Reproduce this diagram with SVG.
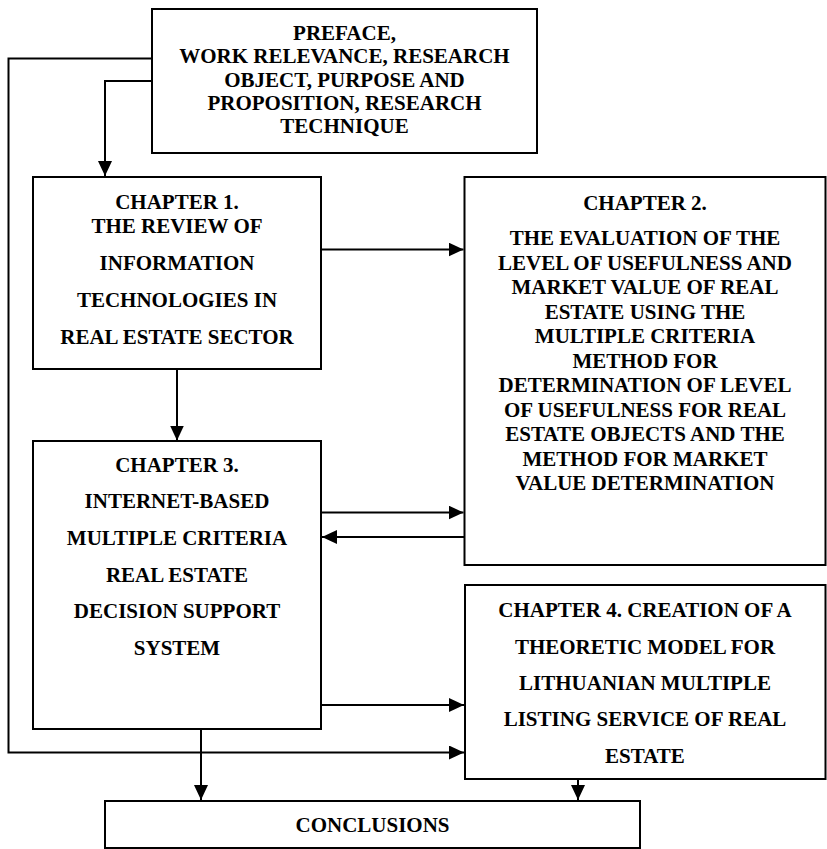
<svg xmlns="http://www.w3.org/2000/svg" width="827" height="849" viewBox="0 0 827 849">
<style>
.box{fill:#fff;stroke:#000;stroke-width:2}
.t{font-family:"Liberation Serif","Times New Roman",serif;font-weight:bold;font-size:21px;fill:#000;text-anchor:middle}
.c{fill:none;stroke:#000;stroke-width:2}
</style>
<defs>
<marker id="ah" markerUnits="userSpaceOnUse" markerWidth="16" markerHeight="15" refX="15" refY="7" orient="auto">
<path d="M0,0 L15,7 L0,14 Z" fill="#000"/>
</marker>
</defs>
<rect width="827" height="849" fill="#fff"/>
<g id="connectors">
<path class="c" d="M152,58.5 H8.5 V752.5 H464" marker-end="url(#ah)"/>
<path class="c" d="M152,81 H105 V176" marker-end="url(#ah)"/>
<path class="c" d="M321,249.5 H463.5" marker-end="url(#ah)"/>
<path class="c" d="M177,369 V440.5" marker-end="url(#ah)"/>
<path class="c" d="M321,512.5 H463.5" marker-end="url(#ah)"/>
<path class="c" d="M464.5,537 H322" marker-end="url(#ah)"/>
<path class="c" d="M321,705 H464" marker-end="url(#ah)"/>
<path class="c" d="M201,729 V800" marker-end="url(#ah)"/>
<path class="c" d="M578,774 V800" marker-end="url(#ah)"/>
</g>
<g id="preface">
<rect class="box" x="152" y="9" width="385" height="144"/>
<text class="t" x="344.5" y="40">PREFACE,</text>
<text class="t" x="344.5" y="63.3">WORK RELEVANCE, RESEARCH</text>
<text class="t" x="344.5" y="86.6">OBJECT, PURPOSE AND</text>
<text class="t" x="344.5" y="110">PROPOSITION, RESEARCH</text>
<text class="t" x="344.5" y="133.3">TECHNIQUE</text>
</g>
<g id="chapter1">
<rect class="box" x="33" y="177" width="288" height="192"/>
<text class="t" x="177" y="209">CHAPTER 1.</text>
<text class="t" x="177" y="233">THE REVIEW OF</text>
<text class="t" x="177" y="270">INFORMATION</text>
<text class="t" x="177" y="307">TECHNOLOGIES IN</text>
<text class="t" x="177" y="344">REAL ESTATE SECTOR</text>
</g>
<g id="chapter2">
<rect class="box" x="464.5" y="177" width="361" height="388"/>
<text class="t" x="645" y="209.5">CHAPTER 2.</text>
<text class="t" x="645" y="245">THE EVALUATION OF THE</text>
<text class="t" x="645" y="269.5">LEVEL OF USEFULNESS AND</text>
<text class="t" x="645" y="294">MARKET VALUE OF REAL</text>
<text class="t" x="645" y="318.5">ESTATE USING THE</text>
<text class="t" x="645" y="343">MULTIPLE CRITERIA</text>
<text class="t" x="645" y="367.5">METHOD FOR</text>
<text class="t" x="645" y="392">DETERMINATION OF LEVEL</text>
<text class="t" x="645" y="416.5">OF USEFULNESS FOR REAL</text>
<text class="t" x="645" y="441">ESTATE OBJECTS AND THE</text>
<text class="t" x="645" y="465.5">METHOD FOR MARKET</text>
<text class="t" x="645" y="490">VALUE DETERMINATION</text>
</g>
<g id="chapter3">
<rect class="box" x="33" y="441" width="288" height="288"/>
<text class="t" x="177" y="471.7">CHAPTER 3.</text>
<text class="t" x="177" y="508.3">INTERNET-BASED</text>
<text class="t" x="177" y="545">MULTIPLE CRITERIA</text>
<text class="t" x="177" y="581.7">REAL ESTATE</text>
<text class="t" x="177" y="618.3">DECISION SUPPORT</text>
<text class="t" x="177" y="655">SYSTEM</text>
</g>
<g id="chapter4">
<rect class="box" x="465" y="585" width="360.5" height="194"/>
<text class="t" x="645" y="617.3">CHAPTER 4. CREATION OF A</text>
<text class="t" x="645" y="653.6">THEORETIC MODEL FOR</text>
<text class="t" x="645" y="690">LITHUANIAN MULTIPLE</text>
<text class="t" x="645" y="726.3">LISTING SERVICE OF REAL</text>
<text class="t" x="645" y="762.7">ESTATE</text>
</g>
<g id="conclusions">
<rect class="box" x="105" y="801" width="535" height="47"/>
<text class="t" x="372.5" y="831.7">CONCLUSIONS</text>
</g>
</svg>
